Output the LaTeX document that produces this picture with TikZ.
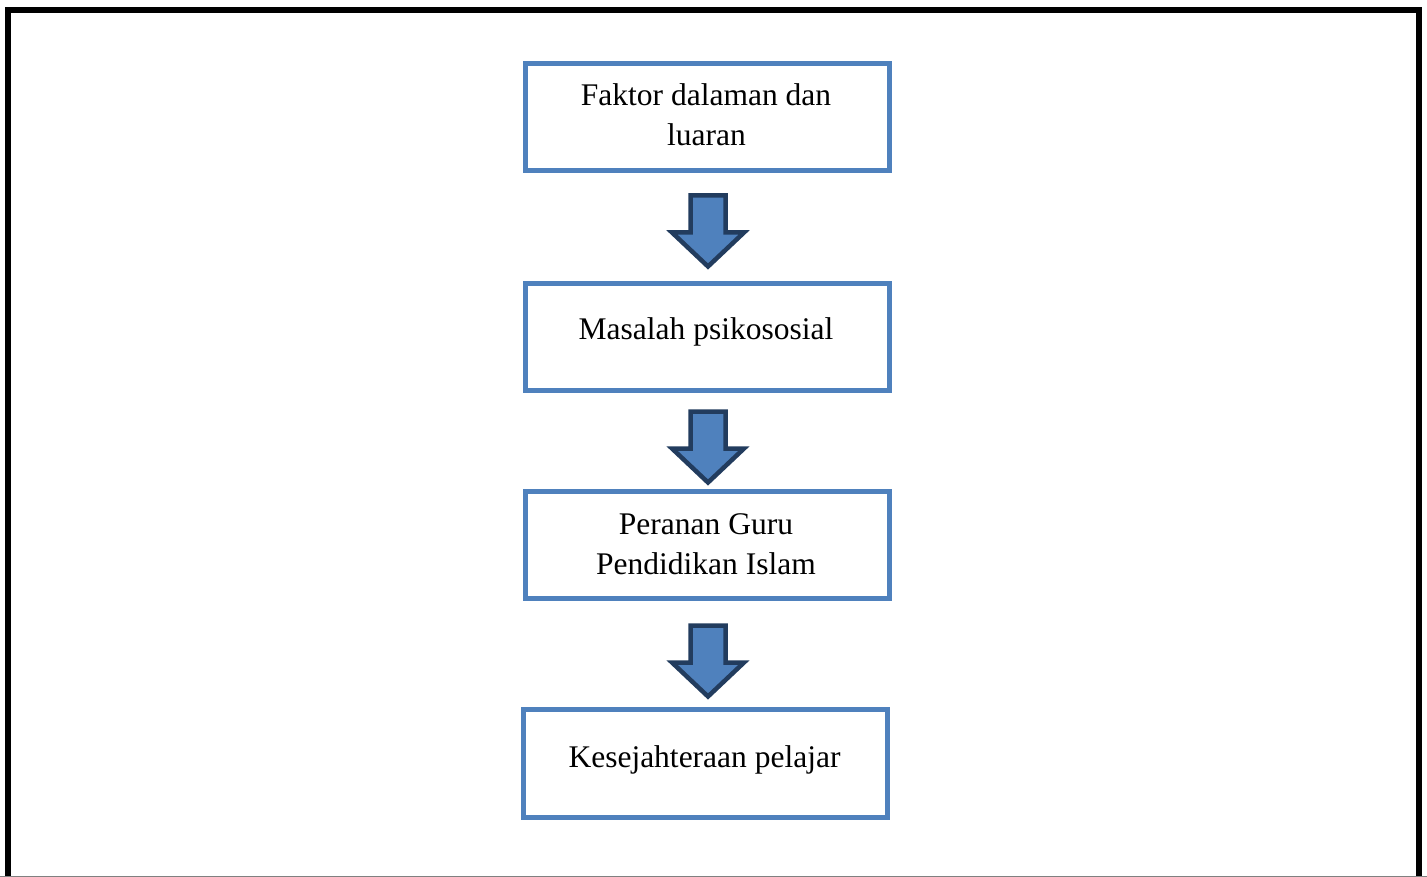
\documentclass[tikz,border=0pt]{standalone}
\usepackage{fontspec}
\setmainfont{Liberation Serif}
\begin{document}
\begin{tikzpicture}[x=1pt,y=-1pt,
  box/.style={draw=boxblue, line width=5pt, rectangle, inner sep=0pt, minimum width=364pt, minimum height=107pt},
  lbl/.style={font=\fontsize{31.5}{40.5}\selectfont, inner sep=0pt, align=center, anchor=base},
  blockarrow/.style={fill=boxblue, draw=arrowdark, line width=4.5pt, line join=miter}]
\definecolor{boxblue}{HTML}{4F81BD}
\definecolor{arrowdark}{HTML}{223C5E}
\useasboundingbox (0,0) rectangle (1427,877);
% frame
\coordinate (fbl) at (7.5,877);
\coordinate (ftl) at (7.5,10.5);
\coordinate (ftr) at (1418.5,10.5);
\coordinate (fbr) at (1418.5,877);
\draw[line width=6pt, line join=miter] (fbl) -- (ftl) -- (ftr) -- (fbr);
\coordinate (gl) at (0,876.5);
\coordinate (gr) at (1427,876.5);
\draw[gray, line width=1pt] (gl) -- (gr);
% boxes
\node[box] (b1) at (707.5,117) {};
\node[box] (b2) at (707.5,337) {};
\node[box] (b3) at (707.5,545) {};
\node[box, minimum height=108pt] (b4) at (705.5,763.5) {};
% texts
\node[lbl] (t1a) at (706,106) {Faktor dalaman dan};
\node[lbl] (t1b) at (706.5,146) {luaran};
\node[lbl] (t2) at (706,340) {Masalah psikososial};
\node[lbl] (t3a) at (706,534) {Peranan Guru};
\node[lbl] (t3b) at (706,574) {Pendidikan Islam};
\node[lbl] (t4) at (704.5,767) {Kesejahteraan pelajar};
% block arrows
\coordinate (a1) at (708,193);
\coordinate (a2) at (708,409);
\coordinate (a3) at (708,623);
\foreach \a in {a1,a2,a3}{
  \draw[blockarrow, shift={(\a)}] (-17.5,2.5) -- (17.5,2.5) -- (17.5,39.5) -- (36,39.5) -- (0,73.5) -- (-36,39.5) -- (-17.5,39.5) -- cycle;
}
\end{tikzpicture}
\end{document}
